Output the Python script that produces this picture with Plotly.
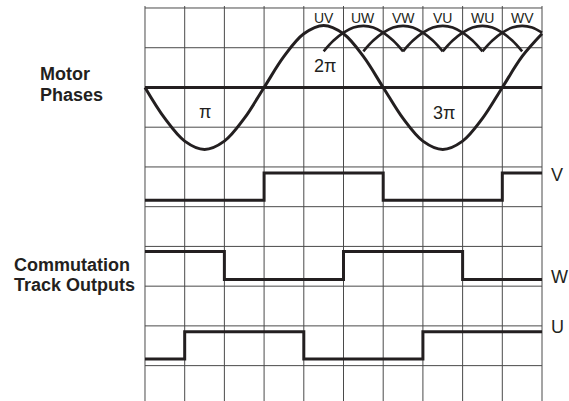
import plotly.graph_objects as go

# ---- data (grid columns / rows; 1 unit = one grid cell) ----
phase_x = [0, 0.5, 1, 1.5, 2, 2.5, 3, 3.5, 4, 4.5, 5, 5.5, 6, 6.5, 7, 7.5, 8, 8.5, 9, 9.5, 10]
phase_y = [0, -0.78, -1.35, -1.56, -1.35, -0.78, 0, 0.78, 1.35, 1.56, 1.35, 0.78, 0,
           -0.78, -1.35, -1.56, -1.35, -0.78, 0, 0.78, 1.35]

# line-to-line arcs (rectified envelope), offsets from arc centre and heights
arc_centers = [5.5, 6.5, 7.5, 8.5, 9.5]
arc_labels_all = ["UV", "UW", "VW", "VU", "WU", "WV"]
arc_label_x = [4.5, 5.5, 6.5, 7.5, 8.5, 9.5]
arc_dx = [-1, -0.75, -0.5, -0.25, 0, 0.25, 0.5, 0.75, 1]
arc_dy = [0.91, 1.18, 1.38, 1.51, 1.55, 1.51, 1.38, 1.18, 0.91]

# commutation tracks: transition columns and levels
v_x = [0, 3, 6, 9, 10]
v_y = [-2.84, -2.15, -2.84, -2.15, -2.15]
w_x = [0, 2, 5, 8, 10]
w_y = [-4.13, -4.83, -4.13, -4.83, -4.83]
u_x = [0, 1, 4, 7, 10]
u_y = [-6.83, -6.15, -6.83, -6.15, -6.15]

grid_cols = [0, 1, 2, 3, 4, 5, 6, 7, 8, 9, 10]
grid_rows = [2, 1, -1, -2, -3, -4, -5, -6, -7]

INK = "#231f20"
SANS = "Liberation Sans, Arial, Helvetica, sans-serif"

fig = go.Figure()

shapes = []
for c in grid_cols:
    shapes.append(dict(type="line", xref="x", yref="paper", x0=c, x1=c, y0=0, y1=1,
                       line=dict(color="#4a4a4a", width=1), layer="below"))
for r in grid_rows:
    shapes.append(dict(type="line", xref="x", yref="y", x0=grid_cols[0], x1=grid_cols[-1], y0=r, y1=r,
                       line=dict(color="#4a4a4a", width=1), layer="below"))
shapes.append(dict(type="line", xref="x", yref="y", x0=grid_cols[0], x1=grid_cols[-1], y0=0, y1=0,
                   line=dict(color=INK, width=3), layer="below"))

fig.add_trace(go.Scatter(x=phase_x, y=phase_y, mode="lines",
                         line=dict(color=INK, width=3, shape="spline"), hoverinfo="skip"))

for c in arc_centers:
    xs = [c + d for d in arc_dx]
    pts = [(x, y) for x, y in zip(xs, arc_dy) if x <= 10 + 1e-9]
    fig.add_trace(go.Scatter(x=[p[0] for p in pts], y=[p[1] for p in pts], mode="lines",
                             line=dict(color=INK, width=2.6, shape="spline"), hoverinfo="skip"))

for xs, ys in [(v_x, v_y), (w_x, w_y), (u_x, u_y)]:
    fig.add_trace(go.Scatter(x=xs, y=ys, mode="lines",
                             line=dict(color=INK, width=3, shape="hv"), hoverinfo="skip"))

ann = []
for lab, lx in zip(arc_labels_all, arc_label_x):
    ann.append(dict(x=lx, y=1.74, xref="x", yref="y", text=lab, showarrow=False,
                    font=dict(family=SANS, size=14, color=INK)))
for txt, px, py in [("π", 1.52, -0.62), ("2π", 4.53, 0.54), ("3π", 7.53, -0.64)]:
    ann.append(dict(x=px, y=py, xref="x", yref="y", text=txt, showarrow=False,
                    font=dict(family=SANS, size=18, color=INK)))
for txt, py in [("V", -2.2), ("W", -4.78), ("U", -6.04)]:
    ann.append(dict(x=1.0145, y=py, xref="paper", yref="y", text=txt, showarrow=False,
                    xanchor="left", borderpad=0, font=dict(family=SANS, size=18, color=INK)))
for txt, px, py in [("Motor", -0.262, 0.33), ("Phases", -0.262, -0.2),
                    ("Commutation", -0.327, -4.47), ("Track Outputs", -0.327, -4.98)]:
    ann.append(dict(x=px, y=py, xref="paper", yref="y", text="<b>" + txt + "</b>", showarrow=False,
                    xanchor="left", font=dict(family=SANS, size=18, color=INK)))

fig.update_layout(
    width=569, height=401,
    margin=dict(l=143, r=25, t=6, b=0, pad=0),
    paper_bgcolor="white", plot_bgcolor="white",
    showlegend=False,
    xaxis=dict(range=[-0.05, 10.05], visible=False, fixedrange=True),
    yaxis=dict(range=[-7.89, 2.05], visible=False, fixedrange=True),
    shapes=shapes, annotations=ann,
)

fig.write_html("out.html", config={"displayModeBar": False, "staticPlot": True},
               post_script="document.body.style.margin='0px';document.body.style.overflow='hidden';")
